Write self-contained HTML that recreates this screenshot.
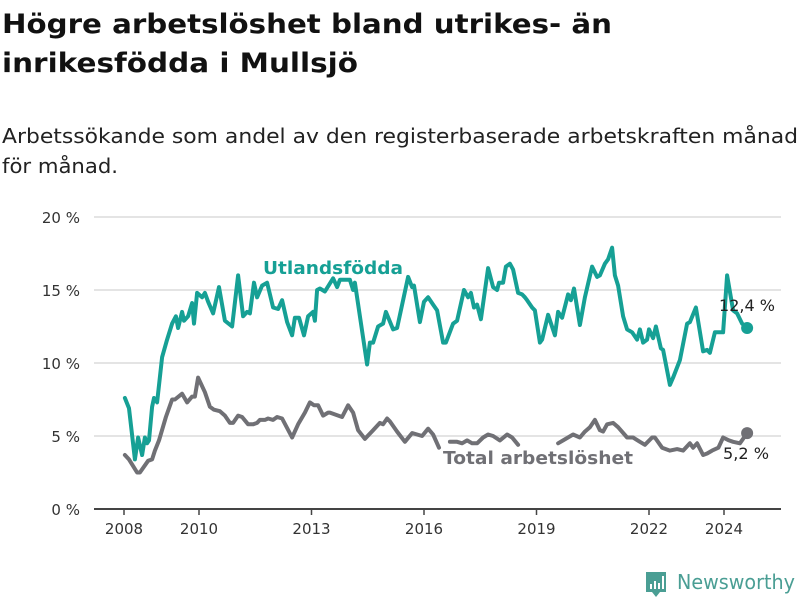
<!DOCTYPE html>
<html><head><meta charset="utf-8"><style>
html,body{margin:0;padding:0;background:#fff;}
svg{display:block;font-family:"DejaVu Sans","Liberation Sans",sans-serif;}
</style></head><body>
<svg id="chart" width="800" height="600" viewBox="0 0 800 600" xmlns="http://www.w3.org/2000/svg">
<text x="2" y="33" font-size="27" font-weight="bold" fill="#111" textLength="610" lengthAdjust="spacingAndGlyphs">Högre arbetslöshet bland utrikes- än</text>
<text x="2" y="72" font-size="27" font-weight="bold" fill="#111" textLength="356" lengthAdjust="spacingAndGlyphs">inrikesfödda i Mullsjö</text>
<text x="2" y="143" font-size="20" fill="#222" textLength="796" lengthAdjust="spacingAndGlyphs">Arbetssökande som andel av den registerbaserade arbetskraften månad</text>
<text x="2" y="173" font-size="20" fill="#222" textLength="116" lengthAdjust="spacingAndGlyphs">för månad.</text>
<g id="grid"></g>
<g id="xaxis"></g>
<g id="series"></g>
<text x="263" y="274" font-size="18" font-weight="bold" fill="#16a095" textLength="140" lengthAdjust="spacingAndGlyphs">Utlandsfödda</text>
<text x="443" y="464" font-size="18" font-weight="bold" fill="#707075" textLength="190" lengthAdjust="spacingAndGlyphs">Total arbetslöshet</text>
<text id="lastTeal" x="719" y="311" font-size="16" fill="#222" textLength="56" lengthAdjust="spacingAndGlyphs">12,4 %</text>
<text id="lastGray" x="723" y="459" font-size="16" fill="#222" textLength="46" lengthAdjust="spacingAndGlyphs">5,2 %</text>
<g>
<path d="M646 572 h20 v20 h-6 l-4 5 l-4 -5 h-6 z" fill="#4a9e94"/>
<rect x="650" y="584" width="2" height="5" fill="#fff"/><rect x="654" y="581" width="2" height="8" fill="#fff"/><rect x="658" y="583" width="2" height="6" fill="#fff"/><rect x="662" y="576" width="2" height="13" fill="#fff"/>
<text x="677" y="589" font-size="20" fill="#4a9e94" textLength="118" lengthAdjust="spacingAndGlyphs">Newsworthy</text>
</g>
</svg>
<script>
const yTicks=[0,5,10,15,20];
const yTickLabels=["0 %","5 %","10 %","15 %","20 %"];
const xTickYears=[2008,2010,2013,2016,2019,2022,2024];
const tealMonths=[0.3,1.6,3.5,4.5,5.8,6.7,7.4,8.0,9.0,9.6,10.6,12.2,13.8,15.4,16.6,17.3,18.6,19.2,20.5,21.8,22.4,23.4,25.0,25.9,26.9,28.5,30.4,32.3,34.6,36.5,38.1,39.4,40.3,41.6,42.6,44.2,45.8,47.7,49.3,50.6,52.2,53.8,54.7,56.0,57.6,58.9,60.5,61.1,61.8,62.7,64.3,66.9,68.2,69.1,72.3,73.3,73.9,77.8,78.7,79.7,81.3,82.9,83.8,86.1,87.4,90.9,92.2,92.8,94.7,96.0,97.3,98.9,100.2,102.1,103.0,105.3,106.6,108.8,110.1,111.0,112.0,113.0,114.2,116.5,118.1,119.4,120.0,121.3,122.2,123.5,124.5,126.1,127.4,128.3,129.0,130.6,131.5,133.1,133.8,135.7,137.9,138.9,140.2,142.1,143.0,144.0,145.9,147.5,149.8,151.4,152.3,153.9,154.9,156.2,157.1,158.1,159.7,161.0,162.6,164.2,165.1,166.1,167.4,168.0,169.3,170.2,171.8,172.5,174.7,175.7,177.9,180.2,181.1,183.0,185.3,186.6,187.5,189.1,190.7,191.7,193.0,194.9,196.2,197.8,199.4];
const tealValues=[7.6,6.9,3.4,4.9,3.7,4.9,4.5,4.7,7.0,7.6,7.3,10.4,11.6,12.7,13.2,12.4,13.5,12.9,13.2,14.1,12.7,14.8,14.5,14.8,14.2,13.4,15.2,12.9,12.5,16.0,13.2,13.5,13.4,15.5,14.5,15.3,15.5,13.8,13.7,14.3,12.8,11.9,13.1,13.1,11.9,13.2,13.5,12.9,15.0,15.1,14.9,15.8,15.2,15.7,15.7,15.0,15.5,9.9,11.4,11.4,12.5,12.7,13.5,12.3,12.4,15.9,15.2,15.3,12.8,14.2,14.5,14.0,13.6,11.4,11.4,12.7,12.9,15.0,14.5,14.8,13.8,14.0,13.0,16.5,15.2,15.0,15.5,15.5,16.6,16.8,16.4,14.8,14.7,14.5,14.3,13.8,13.6,11.4,11.6,13.3,11.9,13.5,13.1,14.7,14.3,15.1,12.6,14.5,16.6,15.9,16.0,16.8,17.1,17.9,16.0,15.3,13.2,12.3,12.1,11.6,12.3,11.4,11.6,12.3,11.7,12.5,11.0,10.9,8.5,9.0,10.2,12.7,12.8,13.8,10.8,10.9,10.7,12.1,12.1,12.1,16.0,13.6,13.4,12.7,12.4];
const totalMonths=[0.3,1.6,4.2,5.1,7.7,9.0,9.9,11.2,13.4,15.4,16.3,18.6,20.2,21.8,22.7,23.7,25.9,27.5,28.8,30.7,32.3,33.9,34.9,36.5,37.8,39.7,41.3,42.6,43.5,45.1,46.1,47.7,49.0,50.6,53.8,55.7,57.9,59.5,60.8,62.1,63.7,65.3,65.9,69.8,71.7,73.3,74.9,77.1,79.7,81.9,82.9,84.2,85.1,87.4,89.9,92.2,93.8,95.4,97.3,98.9,100.8,102,104.3,106.6,108.2,109.8,111.4,113.0,114.9,116.5,118.1,120.3,122.6,124.2,126.1,130,138.9,140.5,143.7,145.9,147.5,149.1,150.7,152.3,153.3,154.6,156.5,158.1,161.0,162.9,165.1,166.7,169.0,169.9,172.2,174.7,177.0,178.9,181.1,182.1,183.4,185.3,186.6,188.2,190.2,191.7,193.6,194.9,197.1,199.4];
const totalValues=[3.7,3.4,2.5,2.5,3.3,3.4,4.0,4.7,6.3,7.5,7.5,7.9,7.3,7.7,7.7,9.0,8.0,7.0,6.8,6.7,6.4,5.9,5.9,6.4,6.3,5.8,5.8,5.9,6.1,6.1,6.2,6.1,6.3,6.2,4.9,5.8,6.6,7.3,7.1,7.1,6.4,6.6,6.6,6.3,7.1,6.6,5.4,4.8,5.4,5.9,5.8,6.2,6.0,5.3,4.6,5.2,5.1,5.0,5.5,5.1,4.2,null,4.6,4.6,4.5,4.7,4.5,4.5,4.9,5.1,5.0,4.7,5.1,4.9,4.4,null,4.5,4.7,5.1,4.9,5.3,5.6,6.1,5.4,5.3,5.8,5.9,5.6,4.9,4.9,4.6,4.4,4.9,4.9,4.2,4.0,4.1,4.0,4.5,4.2,4.5,3.7,3.8,4.0,4.2,4.9,4.7,4.6,4.5,5.2];

const NS="http://www.w3.org/2000/svg";
const X0=124,PXM=37.5/12,Y0=509,PXV=14.6;
function xM(m){return X0+m*PXM;}
function xYear(y){return xM((y-2008)*12);}
function yV(v){return Y0-v*PXV;}
function mk(tag,attrs,parent){const e=document.createElementNS(NS,tag);for(const k in attrs)e.setAttribute(k,attrs[k]);parent.appendChild(e);return e;}
const grid=document.getElementById('grid');
yTicks.forEach((t,i)=>{
  if(t>0){const l=mk('line',{x1:94,x2:781,y1:yV(t),y2:yV(t),stroke:'#dcdcdc','stroke-width':1.5},grid);
  
  }
  const tx=mk('text',{x:80,y:yV(t)+6,'text-anchor':'end','font-size':15,fill:'#333'},grid);
  tx.textContent=yTickLabels[i];
  
  
});
const xa=document.getElementById('xaxis');
const al=mk('line',{x1:94,x2:781,y1:Y0,y2:Y0,stroke:'#444','stroke-width':2},xa);


xTickYears.forEach(y=>{
  const tk=mk('line',{x1:xYear(y),x2:xYear(y),y1:Y0,y2:Y0+6,stroke:'#444','stroke-width':1.5},xa);
  
  
  const tx=mk('text',{x:xYear(y),y:Y0+25,'text-anchor':'middle','font-size':15,fill:'#333'},xa);
  tx.textContent=y;
  
  
});
function pathFor(ms,vs){let d='',pen=false;for(let i=0;i<ms.length;i++){if(vs[i]==null){pen=false;continue;}d+=(pen?'L':'M')+xM(ms[i]).toFixed(1)+' '+yV(vs[i]).toFixed(1);pen=true;}return d;}
const s=document.getElementById('series');
const pg=mk('path',{d:pathFor(totalMonths,totalValues),fill:'none',stroke:'#707075','stroke-width':4,'stroke-linejoin':'round','stroke-linecap':'round'},s);


const pt=mk('path',{d:pathFor(tealMonths,tealValues),fill:'none',stroke:'#16a095','stroke-width':4,'stroke-linejoin':'round','stroke-linecap':'round'},s);


const lt=tealMonths.length-1,lg=totalMonths.length-1;
const dt=mk('circle',{cx:xM(tealMonths[lt]),cy:yV(tealValues[lt]),r:6,fill:'#16a095'},s);


const dg=mk('circle',{cx:xM(totalMonths[lg]),cy:yV(totalValues[lg]),r:6,fill:'#707075'},s);


document.getElementById('lastTeal').textContent=tealValues[lt].toFixed(1).replace('.',',')+' %';
document.getElementById('lastGray').textContent=totalValues[lg].toFixed(1).replace('.',',')+' %';
</script>
</body></html>
